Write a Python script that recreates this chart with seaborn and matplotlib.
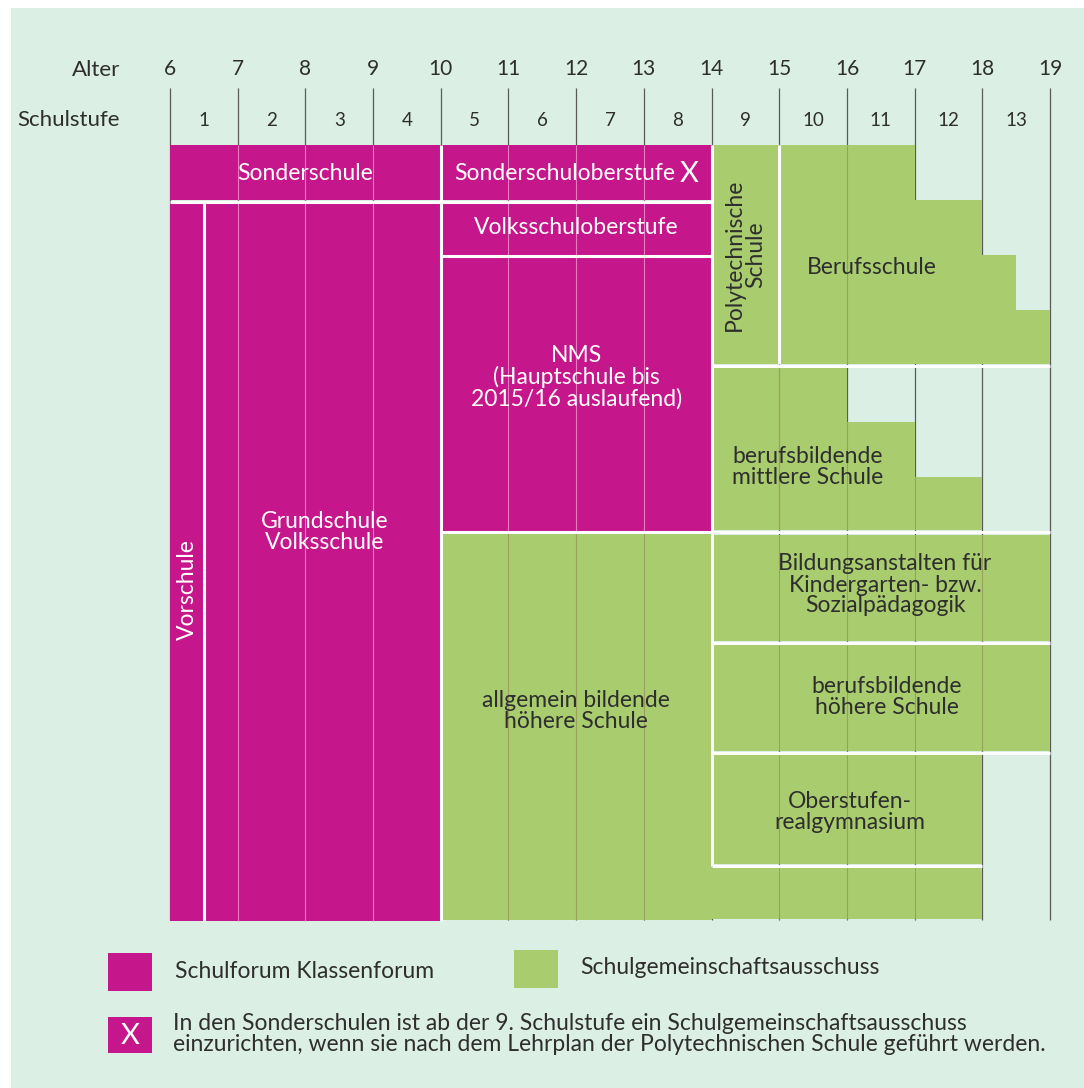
import matplotlib
matplotlib.use("Agg")
import matplotlib.pyplot as plt
import seaborn as sns

# ages on top row, school grades (Schulstufe) between them
ages = list(range(6, 20))
grades = list(range(1, 14))

# school blocks: start age, end age, top / bottom row (pixel rows of the scheme)
block_names = ["Sonderschule", "Sonderschuloberstufe", "Vorschule", "Grundschule",
               "Volksschuloberstufe", "NMS", "AHS", "Polytechnische Schule",
               "BMS", "BAKIP", "BHS", "ORG", "AHS Oberstufe"]
block_start = [6, 10, 6, 6.5, 10, 10, 10, 14, 14, 14, 14, 14, 14]
block_end = [10, 14, 6.5, 10, 14, 14, 14, 15, 16, 19, 19, 18, 18]
block_top = [145, 145, 203, 203, 203, 257, 533, 145, 368, 535, 645, 755, 867]
block_bottom = [200, 200, 921, 921, 255, 531, 920, 364, 530, 641, 751, 864, 919]
block_forum = ["SF", "SF", "SF", "SF", "SF", "SF", "SGA", "SGA", "SGA", "SGA", "SGA", "SGA", "SGA"]

# stepped blocks
beruf_start = [15, 17, 18, 18.5]
beruf_end = [17, 18, 18.5, 19]
beruf_top = [145, 200, 255, 310]
bms_start = [16, 17]
bms_end = [17, 18]
bms_top = [422, 477]

magenta = "#c5178b"
green = "#a9cc6f"
mint = "#dcefe4"
ink = "#2e2e2e"
colors = {"SF": magenta, "SGA": green}

sns.set_theme(style="white")
plt.rcParams["font.family"] = ["Lato", "DejaVu Sans"]

PX = 67.69


def px2age(px):
    return 6 + (px - 170) / PX


fig = plt.figure(figsize=(10.84, 10.88), dpi=100)
ax = fig.add_axes([0, 0, 1, 1])
ax.set_xlim(px2age(0), px2age(1084))
ax.set_ylim(1088, 0)
ax.axis("off")

# mint panel
ax.bar(px2age(11), 1088 - 8, width=px2age(1084) - px2age(11), bottom=8,
       align="edge", color=mint, linewidth=0, zorder=0)

# age grid
ax.vlines(ages, 88, 920, color="#5a5a5a", lw=0.9, zorder=1)

for s, e, t, b, f in zip(block_start, block_end, block_top, block_bottom, block_forum):
    ax.bar(s, b - t, width=e - s, bottom=t, align="edge", color=colors[f], linewidth=0, zorder=2)
    inner = [a for a in ages if s < a < e]
    ax.vlines(inner, t, b, color="#e67bc2" if f == "SF" else "#99a25c", lw=0.8, zorder=3)

for s, e, t in zip(beruf_start, beruf_end, beruf_top):
    ax.bar(s, 364 - t, width=e - s, bottom=t, align="edge", color=green, linewidth=0, zorder=2)
    inner = [a for a in ages if s < a < e]
    ax.vlines(inner, t, 364, color="#99a25c", lw=0.8, zorder=3)
for s, e, t in zip(bms_start, bms_end, bms_top):
    ax.bar(s, 530 - t, width=e - s, bottom=t, align="edge", color=green, linewidth=0, zorder=2)
ax.vlines([15], 368, 530, color="#99a25c", lw=0.8, zorder=3)
ax.vlines([16, 17], [422, 477], 530, color="#99a25c", lw=0.8, zorder=3)

# white separators
wl = dict(color="white", lw=2.2, zorder=4)
ax.vlines(10, 145, 921, **wl)
ax.vlines(14, 145, 866, **wl)
ax.vlines(15, 145, 364, **wl)
ax.vlines(6.5, 202, 921, **wl)
ax.hlines(202, 6, 14, **wl)
ax.hlines(256, 10, 14, **wl)
ax.hlines(532, 10, 19, **wl)
ax.hlines(366, 14, 19, **wl)
ax.hlines(643, 14, 19, **wl)
ax.hlines(753, 14, 19, **wl)
ax.hlines(866, 14, 18, **wl)

# header
fs = 16.5
ax.text(px2age(120), 70, "Alter", ha="right", va="center", fontsize=16, color=ink)
ax.text(px2age(120), 120, "Schulstufe", ha="right", va="center", fontsize=16, color=ink)
for a in ages:
    ax.text(a, 69, str(a), ha="center", va="center", fontsize=15, color=ink)
for g in grades:
    ax.text(g + 5.5, 120, str(g), ha="center", va="center", fontsize=13.5, color=ink)

# block labels
wt = dict(ha="center", va="center", fontsize=fs, color="white", zorder=5, linespacing=1.0)
dt = dict(ha="center", va="center", fontsize=fs, color=ink, zorder=5, linespacing=1.0)
ax.text(8, 174, "Sonderschule", **wt)
ax.text(px2age(565), 174, "Sonderschuloberstufe", **wt)
ax.text(px2age(689), 174, "X", ha="center", va="center", fontsize=21, color="white", zorder=5)
ax.text(12, 228, "Volksschuloberstufe", **wt)
ax.text(12, 377, "NMS\n(Hauptschule bis\n2015/16 auslaufend)", **wt)
ax.text(8.28, 532, "Grundschule\nVolksschule", **wt)
ax.text(6.26, 590, "Vorschule", rotation=90, **wt)
ax.text(12, 711, "allgemein bildende\nhöhere Schule", **dt)
ax.text(14.5, 255, "Polytechnische\nSchule", rotation=90, **dt)
ax.text(px2age(872), 268, "Berufsschule", **dt)
ax.text(px2age(732), 467, "berufsbildende\nmittlere Schule", ha="left", va="center",
        fontsize=fs, color=ink, zorder=5, linespacing=1.0)
ax.text(px2age(885), 585, "Bildungsanstalten für\nKindergarten- bzw.\nSozialpädagogik", **dt)
ax.text(px2age(887), 697, "berufsbildende\nhöhere Schule", **dt)
ax.text(px2age(850), 812, "Oberstufen-\nrealgymnasium", **dt)

# legend
ax.bar(px2age(108), 38, width=44 / PX, bottom=953, align="edge", color=magenta, linewidth=0)
ax.text(px2age(175), 971, "Schulforum Klassenforum", ha="left", va="center", fontsize=fs, color=ink)
ax.bar(px2age(514), 38, width=44 / PX, bottom=950, align="edge", color=green, linewidth=0)
ax.text(px2age(580), 968, "Schulgemeinschaftsausschuss", ha="left", va="center", fontsize=fs, color=ink)
ax.bar(px2age(108), 36, width=44 / PX, bottom=1017, align="edge", color=magenta, linewidth=0)
ax.text(px2age(130), 1036, "X", ha="center", va="center", fontsize=21, color="white")
ax.text(px2age(173), 1034,
        "In den Sonderschulen ist ab der 9. Schulstufe ein Schulgemeinschaftsausschuss\n"
        "einzurichten, wenn sie nach dem Lehrplan der Polytechnischen Schule geführt werden.",
        ha="left", va="center", fontsize=fs, color=ink, linespacing=1.0)

fig.savefig("out.png", dpi=100, facecolor="white")
